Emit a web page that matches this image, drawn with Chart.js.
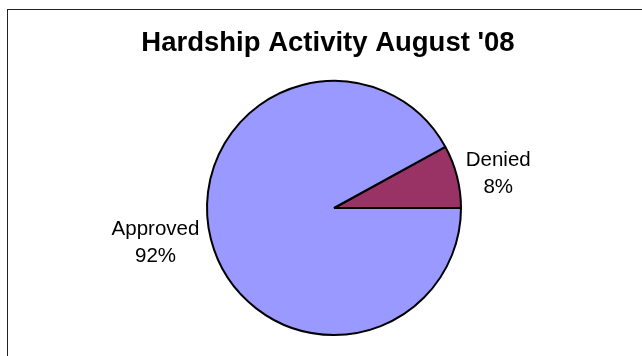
<!DOCTYPE html>
<html>
<head>
<meta charset="utf-8">
<script src="https://cdn.jsdelivr.net/npm/chart.js@4/dist/chart.umd.min.js"></script>
<style>
  html, body { margin: 0; padding: 0; background: #fff; }
  #wrap { position: relative; width: 642px; height: 356px; }
  #frame { position: absolute; left: 7px; top: 9px; width: 700px; height: 400px; border: 1px solid #222; box-sizing: border-box; }
  canvas { position: absolute; left: 0; top: 0; }
</style>
</head>
<body>
<div id="wrap">
  <div id="frame"></div>
  <canvas id="pieChart" width="642" height="356"></canvas>
</div>
<script>
const chartTitle = "Hardship Activity August '08";
const categories = ['Denied', 'Approved'];
const percents = [8, 92];
const sliceColors = ['#993366', '#9999FF'];

// title sits a little left of the pie centre, so draw it by hand
const titleText = {
    id: 'titleText',
    afterDraw(chart) {
        const ctx = chart.ctx;
        ctx.save();
        ctx.font = 'bold 27.5px "Liberation Sans", Arial, sans-serif';
        ctx.fillStyle = '#000';
        ctx.textAlign = 'center';
        ctx.textBaseline = 'alphabetic';
        ctx.fillText(chartTitle, 328, 51);
        ctx.restore();
    }
};

// slice labels drawn outside the pie, Excel style
const outsideLabels = {
    id: 'outsideLabels',
    afterDatasetsDraw(chart) {
        const ctx = chart.ctx;
        const meta = chart.getDatasetMeta(0);
        ctx.save();
        ctx.font = '20.5px "Liberation Sans", Arial, sans-serif';
        ctx.fillStyle = '#000';
        ctx.textAlign = 'center';
        ctx.textBaseline = 'middle';
        meta.data.forEach((arc, i) => {
            const mid = (arc.startAngle + arc.endAngle) / 2;
            const r = arc.outerRadius + (Math.cos(mid) >= 0 ? 9 : 12);
            const ax = arc.x + Math.cos(mid) * r;
            const ay = arc.y + Math.sin(mid) * r;
            const lines = [categories[i], percents[i] + '%'];
            const w = Math.max(...lines.map(l => ctx.measureText(l).width));
            const cx = Math.cos(mid) >= 0 ? ax + w / 2 : ax - w / 2;
            const lh = 27;
            lines.forEach((l, j) => {
                ctx.fillText(l, cx, ay + (j - (lines.length - 1) / 2) * lh);
            });
        });
        ctx.restore();
    }
};

const ctx = document.getElementById('pieChart').getContext('2d');
const chart = new Chart(ctx, {
    type: 'pie',
    data: {
        labels: categories,
        datasets: [{
            data: percents,
            backgroundColor: sliceColors,
            borderColor: '#000',
            borderWidth: 2
        }]
    },
    options: {
        responsive: false,
        animation: false,
        rotation: 90 - percents[0] * 3.6,
        layout: { padding: { top: 80, left: 26, right: 0, bottom: 20 } },
        plugins: {
            legend: { display: false },
            tooltip: { enabled: false },
            title: { display: false }
        }
    },
    plugins: [outsideLabels, titleText]
});
</script>
</body>
</html>
